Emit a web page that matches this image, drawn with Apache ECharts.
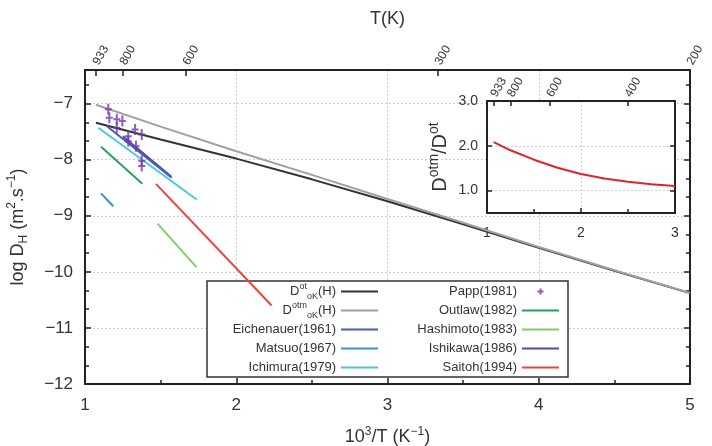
<!DOCTYPE html>
<html>
<head>
<meta charset="utf-8">
<script src="https://cdn.jsdelivr.net/npm/echarts@6/dist/echarts.min.js"></script>
<style>
    html, body { margin: 0; padding: 0; background: #ffffff; }
    #main { width: 712px; height: 446px; }
</style>
</head>
<body>
<div id="main"></div>
<script>
    // main plot: x = 10^3/T, y = log D_H
    var dotX = [1.072, 1.5, 2, 2.5, 3, 3.5, 4, 4.5, 5];
    var dotY = [-7.34, -7.64, -7.98, -8.35, -8.74, -9.15, -9.57, -9.98, -10.38];
    var dotmY = [-7.02, -7.41, -7.85, -8.27, -8.70, -9.125, -9.557, -9.97, -10.376];

    var eichenauerX = [1.143, 1.573];
    var eichenauerY = [-7.40, -8.32];
    var matsuoX = [1.106, 1.187];
    var matsuoY = [-8.60, -8.83];
    var ichimuraX = [1.088, 1.738];
    var ichimuraY = [-7.43, -8.71];
    var outlawX = [1.106, 1.379];
    var outlawY = [-7.77, -8.43];
    var hashimotoX = [1.48, 1.738];
    var hashimotoY = [-9.14, -9.92];
    var ishikawaX = [1.25, 1.57];
    var ishikawaY = [-7.58, -8.30];
    var saitohX = [1.469, 2.234];
    var saitohY = [-8.43, -10.60];

    var pappX = [1.154, 1.161, 1.21, 1.247, 1.21, 1.286, 1.286, 1.331, 1.375, 1.337, 1.375, 1.375];
    var pappY = [-7.10, -7.25, -7.28, -7.31, -7.43, -7.58, -7.67, -7.46, -7.55, -7.76, -8.02, -8.11];

    // inset: D_otm / D_ot
    var ratioX = [1.072, 1.25, 1.5, 1.75, 2, 2.25, 2.5, 2.75, 3];
    var ratioY = [2.08, 1.90, 1.69, 1.51, 1.37, 1.27, 1.20, 1.14, 1.10];

    // tick labels
    var mainTopTemps = [933, 800, 600, 300, 200];
    var insetTopTemps = [933, 800, 600, 400];
    var insetYTicks = [1, 2, 3];

    function zip(xs, ys) {
        return xs.map(function (x, i) { return [x, ys[i]]; });
    }
    function invT(temps) {
        return temps.map(function (t) { return 1000 / t; });
    }

    var FONT = "'Liberation Sans', Arial, sans-serif";
    var AXIS_COLOR = '#222';
    var TEXT_COLOR = '#333';
    var gridLine = { show: true, lineStyle: { color: '#cfcfcf', type: [2, 2], width: 1 } };
    var nameRich = {
        sup: { fontSize: 12, verticalAlign: 'top', lineHeight: 12, fontFamily: FONT, color: TEXT_COLOR },
        sub: { fontSize: 12, verticalAlign: 'bottom', lineHeight: 12, fontFamily: FONT, color: TEXT_COLOR }
    };
    var insetNameRich = {
        sup: { fontSize: 14, verticalAlign: 'top', lineHeight: 13, fontFamily: FONT, color: TEXT_COLOR }
    };

    var legendNames = {
        'Dot': '{b|D}{sup|ot}{sub|oK}{b|(H)}',
        'Dotm': '{b|D}{sup|otm}{sub|oK}{b|(H)}'
    };
    function legendFormatter(name) {
        return legendNames[name] || ('{b|' + name + '}');
    }
    var legendRich = {
        b: { fontSize: 13, lineHeight: 19, fontFamily: FONT, color: TEXT_COLOR },
        sup: { fontSize: 9, verticalAlign: 'top', lineHeight: 10, fontFamily: FONT, color: TEXT_COLOR },
        sub: { fontSize: 9, verticalAlign: 'bottom', lineHeight: 10, fontFamily: FONT, color: TEXT_COLOR }
    };
    // icons keep a 37x19 box so every legend row is the same height
    var lineIcon = 'path://M0,0M37,19M0,8.5H37V10.5H0Z';
    var crossIcon = 'path://M0,0M37,19M17.5,6.5H19.5V12.5H17.5ZM15.5,8.5H21.5V10.5H15.5Z';

    function legendItems(names) {
        return names.map(function (n) {
            return { name: n, icon: n === 'Papp(1981)' ? crossIcon : lineIcon };
        });
    }

    function lineSeries(name, xs, ys, color, xi, yi, z) {
        return {
            name: name,
            type: 'line',
            xAxisIndex: xi || 0,
            yAxisIndex: yi || 0,
            data: zip(xs, ys),
            showSymbol: false,
            symbol: 'none',
            smooth: false,
            lineStyle: { color: color, width: 2 },
            itemStyle: { color: color },
            z: z || 2
        };
    }

    var chart = echarts.init(document.getElementById('main'));
    var option = {
        backgroundColor: '#ffffff',
        animation: false,
        textStyle: { fontFamily: FONT },
        grid: [
            { left: 85, right: 22, top: 70, bottom: 62, show: false, outerBoundsMode: 'none', containLabel: false },
            { left: 487, top: 101, width: 188, height: 112, show: true, outerBoundsMode: 'none', containLabel: false,
              backgroundColor: '#ffffff', borderWidth: 0, z: 1 }
        ],
        graphic: [{
            type: 'rect',
            shape: { x: 207, y: 281, width: 361, height: 96 },
            style: { fill: '#ffffff', stroke: '#333', lineWidth: 1.5 },
            z: 1,
            silent: true
        }],
        legend: [{
            data: legendItems(['Dot', 'Dotm', 'Eichenauer(1961)', 'Matsuo(1967)', 'Ichimura(1979)']),
            orient: 'vertical', align: 'right', right: 334, top: 282,
            itemWidth: 37, itemHeight: 19, itemGap: 0, padding: 0,
            formatter: legendFormatter,
            textStyle: { rich: legendRich }
        }, {
            data: legendItems(['Papp(1981)', 'Outlaw(1982)', 'Hashimoto(1983)', 'Ishikawa(1986)', 'Saitoh(1994)']),
            orient: 'vertical', align: 'right', right: 153, top: 282,
            itemWidth: 37, itemHeight: 19, itemGap: 0, padding: 0,
            formatter: legendFormatter,
            textStyle: { rich: legendRich }
        }],
        xAxis: [{
            gridIndex: 0, type: 'value', position: 'bottom',
            min: 1, max: 5, interval: 1,
            axisLine: { show: true, onZero: false, lineStyle: { color: AXIS_COLOR, width: 2 } },
            axisTick: { inside: true, length: 6, lineStyle: { color: AXIS_COLOR, width: 1.5 } },
            minorTick: { show: true, splitNumber: 2, length: 4, lineStyle: { color: AXIS_COLOR, width: 1.5 } },
            axisLabel: { fontSize: 17, color: TEXT_COLOR, margin: 13, fontFamily: FONT },
            splitLine: gridLine,
            name: '10{sup|3}/T (K{sup|−1})', nameLocation: 'middle', nameGap: 42,
            nameTextStyle: { fontSize: 18, color: TEXT_COLOR, lineHeight: 22, fontFamily: FONT, rich: nameRich }
        }, {
            gridIndex: 0, type: 'value', position: 'top',
            min: 1, max: 5,
            axisLine: { show: true, onZero: false, lineStyle: { color: AXIS_COLOR, width: 2 } },
            axisTick: { inside: true, length: 6, customValues: invT(mainTopTemps), lineStyle: { color: AXIS_COLOR, width: 1.5 } },
            axisLabel: {
                customValues: invT(mainTopTemps), rotate: -60, fontSize: 12, color: TEXT_COLOR, margin: 6, fontFamily: FONT,
                formatter: function (v) { return String(Math.round(1000 / v)); }
            },
            splitLine: { show: false },
            name: 'T(K)', nameLocation: 'middle', nameGap: 42,
            nameTextStyle: { fontSize: 18, color: TEXT_COLOR, fontFamily: FONT }
        }, {
            gridIndex: 1, type: 'value', position: 'bottom', z: 2,
            min: 1, max: 3, interval: 1,
            axisLine: { show: true, onZero: false, lineStyle: { color: AXIS_COLOR, width: 2 } },
            axisTick: { inside: true, length: 5, lineStyle: { color: AXIS_COLOR, width: 1.5 } },
            minorTick: { show: true, splitNumber: 2, length: 4, lineStyle: { color: AXIS_COLOR, width: 1.5 } },
            axisLabel: { fontSize: 14, color: TEXT_COLOR, margin: 13, fontFamily: FONT },
            splitLine: gridLine
        }, {
            gridIndex: 1, type: 'value', position: 'top', z: 2,
            min: 1, max: 3,
            axisLine: { show: true, onZero: false, lineStyle: { color: AXIS_COLOR, width: 2 } },
            axisTick: { inside: true, length: 5, customValues: invT(insetTopTemps), lineStyle: { color: AXIS_COLOR, width: 1.5 } },
            axisLabel: {
                customValues: invT(insetTopTemps), rotate: -60, fontSize: 12, color: TEXT_COLOR, margin: 5, fontFamily: FONT,
                formatter: function (v) { return String(Math.round(1000 / v)); }
            },
            splitLine: { show: false }
        }],
        yAxis: [{
            gridIndex: 0, type: 'value', position: 'left',
            min: -12, max: -6.4, interval: 1,
            axisLine: { show: true, onZero: false, lineStyle: { color: AXIS_COLOR, width: 2 } },
            axisTick: { inside: true, length: 6, lineStyle: { color: AXIS_COLOR, width: 1.5 } },
            minorTick: { show: true, splitNumber: 3, length: 4, lineStyle: { color: AXIS_COLOR, width: 1.5 } },
            axisLabel: {
                fontSize: 17, color: TEXT_COLOR, margin: 12, fontFamily: FONT,
                formatter: function (v) { return Number.isInteger(v) ? '−' + Math.abs(v) : ''; }
            },
            splitLine: gridLine,
            name: 'log D{sub|H} (m{sup|2}.s{sup|−1})', nameLocation: 'middle', nameGap: 55,
            nameTextStyle: { fontSize: 18, color: TEXT_COLOR, lineHeight: 24, fontFamily: FONT, rich: nameRich }
        }, {
            gridIndex: 0, type: 'value', position: 'right',
            min: -12, max: -6.4, interval: 1,
            axisLine: { show: true, onZero: false, lineStyle: { color: AXIS_COLOR, width: 2 } },
            axisTick: { inside: true, length: 6, lineStyle: { color: AXIS_COLOR, width: 1.5 } },
            minorTick: { show: true, splitNumber: 3, length: 4, lineStyle: { color: AXIS_COLOR, width: 1.5 } },
            axisLabel: { show: false },
            splitLine: { show: false }
        }, {
            gridIndex: 1, type: 'value', position: 'left', z: 2,
            min: 0.5, max: 3,
            axisLine: { show: true, onZero: false, lineStyle: { color: AXIS_COLOR, width: 2 } },
            axisTick: { inside: true, length: 5, customValues: insetYTicks, lineStyle: { color: AXIS_COLOR, width: 1.5 } },
            axisLabel: {
                customValues: insetYTicks, fontSize: 14, color: TEXT_COLOR, margin: 9, fontFamily: FONT,
                formatter: function (v) { return v.toFixed(1); }
            },
            splitLine: gridLine,
            name: 'D{sup|otm}/D{sup|ot}', nameLocation: 'middle', nameGap: 34,
            nameTextStyle: { fontSize: 20, color: TEXT_COLOR, lineHeight: 26, fontFamily: FONT, rich: insetNameRich }
        }, {
            gridIndex: 1, type: 'value', position: 'right', z: 2,
            min: 0.5, max: 3,
            axisLine: { show: true, onZero: false, lineStyle: { color: AXIS_COLOR, width: 2 } },
            axisTick: { inside: true, length: 5, customValues: insetYTicks, lineStyle: { color: AXIS_COLOR, width: 1.5 } },
            axisLabel: { show: false },
            splitLine: { show: false }
        }],
        series: [
            lineSeries('Dot', dotX, dotY, '#333333'),
            lineSeries('Dotm', dotX, dotmY, '#a0a0a0'),
            lineSeries('Ishikawa(1986)', ishikawaX, ishikawaY, '#5a46a8'),
            lineSeries('Eichenauer(1961)', eichenauerX, eichenauerY, '#4a5fae'),
            lineSeries('Matsuo(1967)', matsuoX, matsuoY, '#3f8fd2'),
            lineSeries('Ichimura(1979)', ichimuraX, ichimuraY, '#4cc8dc'),
            lineSeries('Outlaw(1982)', outlawX, outlawY, '#2aa25e'),
            lineSeries('Hashimoto(1983)', hashimotoX, hashimotoY, '#86cc6a'),
            lineSeries('Saitoh(1994)', saitohX, saitohY, '#e8463c'),
            {
                name: 'Papp(1981)',
                type: 'scatter',
                data: zip(pappX, pappY),
                symbol: 'path://M2.5,0H4.5V11H2.5ZM0,4.5H7V6.5H0Z',
                symbolSize: [7, 11],
                itemStyle: { color: '#7038b0' },
                z: 3
            },
            lineSeries('ratio', ratioX, ratioY, '#d9262b', 2, 2, 3)
        ]
    };
    chart.setOption(option);
</script>
</body>
</html>
